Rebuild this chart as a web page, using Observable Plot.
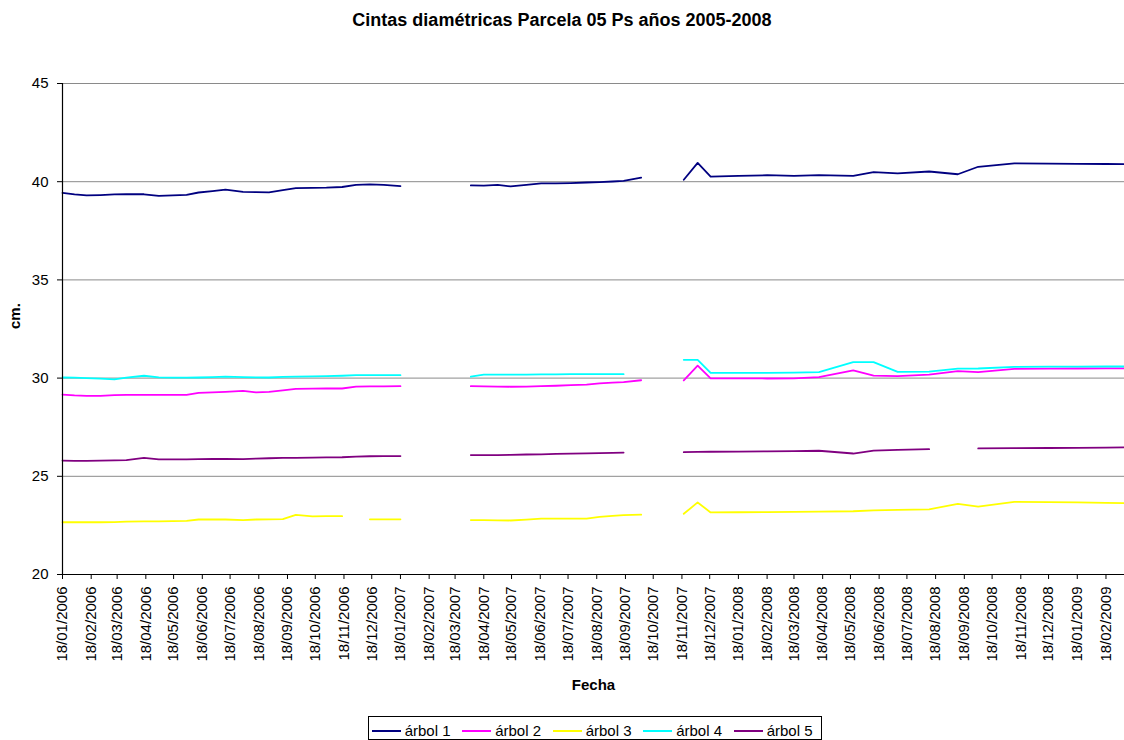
<!DOCTYPE html>
<html>
<head>
<meta charset="utf-8">
<script src="https://cdn.jsdelivr.net/npm/d3@7"></script>
<script src="https://cdn.jsdelivr.net/npm/@observablehq/plot@0.6"></script>
<style>
  body { margin: 0; background: #fff; font-family: "Liberation Sans", Arial, sans-serif; }
  #wrap { position: relative; width: 1124px; height: 740px; overflow: hidden; background: #fff; }
  #title { position: absolute; left: 0; top: 10px; width: 1124px; text-align: center;
           font-weight: bold; font-size: 18px; line-height: 20px; color: #000; }
  #chart { position: absolute; left: 0; top: 40px; }
  #legend { position: absolute; left: 368px; top: 716px; width: 452px; height: 22px;
            border: 1px solid #000; background: #fff; }
  .item { position: absolute; top: 0; height: 22px; }
  .swatch { position: absolute; left: 0; top: 13px; width: 29px; height: 2px; }
  .lab { position: absolute; left: 33px; top: 6px; font-size: 15px; line-height: 15px;
         white-space: nowrap; color: #000; }
</style>
</head>
<body>
<div id="wrap">
  <div id="title">Cintas diamétricas Parcela 05 Ps años 2005-2008</div>
  <div id="chart"></div>
  <div id="legend"></div>
</div>
<script>
// Measurement dates (dd/mm/yyyy); rows with no readings at all break the lines.
const fechas = [
  "18/01/2006","31/01/2006","13/02/2006","28/02/2006","15/03/2006","28/03/2006","16/04/2006",
  "02/05/2006","17/05/2006","01/06/2006","14/06/2006","29/06/2006","13/07/2006","01/08/2006",
  "15/08/2006","29/08/2006","13/09/2006","27/09/2006","15/10/2006","30/10/2006","16/11/2006",
  "01/12/2006","16/12/2006","31/12/2006","18/01/2007",
  "01/03/2007",
  "04/04/2007","18/04/2007","03/05/2007","17/05/2007","03/06/2007","19/06/2007","05/07/2007",
  "21/07/2007","07/08/2007","21/08/2007","04/09/2007","16/09/2007","05/10/2007",
  "28/10/2007",
  "20/11/2007","05/12/2007","19/12/2007","18/01/2008","18/02/2008","18/03/2008","14/04/2008",
  "21/05/2008","12/06/2008","08/07/2008","11/08/2008","11/09/2008","03/10/2008","11/11/2008",
  "18/12/2008","18/01/2009","18/02/2009","10/03/2009"
];

// Diameter tape readings (cm) per tree, aligned with fechas.
const arbol1 = [
  39.43,39.35,39.30,39.32,39.35,39.36,39.36,39.28,39.30,39.33,39.45,39.52,39.60,39.48,39.47,39.46,
  39.57,39.67,39.69,39.70,39.73,39.84,39.86,39.84,39.77,
  null,
  39.81,39.80,39.84,39.76,39.84,39.91,39.91,39.93,39.96,39.98,40.01,40.04,40.21,
  null,
  40.10,40.96,40.26,40.30,40.33,40.30,40.33,40.30,40.49,40.42,40.52,40.38,40.76,40.93,40.92,40.91,40.90,40.89
];
const arbol2 = [
  29.16,29.12,29.10,29.10,29.13,29.15,29.15,29.15,29.15,29.15,29.25,29.27,29.30,29.35,29.27,29.30,
  29.38,29.45,29.46,29.47,29.47,29.57,29.58,29.58,29.59,
  null,
  29.59,29.58,29.57,29.56,29.57,29.59,29.61,29.64,29.67,29.73,29.77,29.80,29.89,
  null,
  29.88,30.63,29.99,29.99,29.98,29.99,30.05,30.39,30.13,30.10,30.18,30.35,30.30,30.47,30.48,30.49,30.50,30.50
];
const arbol3 = [
  22.66,22.66,22.66,22.66,22.67,22.69,22.70,22.71,22.72,22.73,22.80,22.80,22.80,22.77,22.80,22.81,
  22.82,23.04,22.96,22.97,22.97,null,22.81,22.81,22.81,
  null,
  22.77,22.77,22.76,22.75,22.79,22.84,22.85,22.85,22.85,22.93,22.98,23.02,23.05,
  null,
  23.09,23.67,23.16,23.17,23.18,23.19,23.20,23.22,23.27,23.29,23.32,23.60,23.46,23.70,23.69,23.67,23.65,23.63
];
const arbol4 = [
  30.03,30.02,30.00,29.97,29.93,30.02,30.12,30.04,30.02,30.02,30.03,30.05,30.07,30.05,30.04,30.03,
  30.06,30.08,30.09,30.10,30.12,30.15,30.15,30.15,30.15,
  null,
  30.07,30.18,30.18,30.18,30.18,30.19,30.19,30.20,30.20,30.20,30.20,30.20,null,
  null,
  30.93,30.93,30.27,30.27,30.27,30.28,30.30,30.81,30.81,30.32,30.33,30.48,30.49,30.57,30.58,30.58,30.59,30.59
];
const arbol5 = [
  25.80,25.79,25.79,25.80,25.81,25.82,25.94,25.86,25.86,25.86,25.87,25.88,25.89,25.87,25.90,25.92,
  25.94,25.94,25.95,25.96,25.97,26.00,26.02,26.03,26.03,
  null,
  26.08,26.08,26.08,26.09,26.11,26.12,26.14,26.15,26.17,26.18,26.19,26.21,null,
  null,
  26.23,26.24,26.25,26.26,26.27,26.28,26.30,26.16,26.31,26.35,26.38,null,26.42,26.43,26.44,26.45,26.46,26.47
];

const series = ["árbol 1", "árbol 2", "árbol 3", "árbol 4", "árbol 5"];
const colores = ["#000080", "#FF00FF", "#FFFF00", "#00FFFF", "#800080"];

// Axis ticks
const yTicks = [20, 25, 30, 35, 40, 45];
const xTickLabels = [
  "18/01/2006","18/02/2006","18/03/2006","18/04/2006","18/05/2006","18/06/2006","18/07/2006",
  "18/08/2006","18/09/2006","18/10/2006","18/11/2006","18/12/2006","18/01/2007","18/02/2007",
  "18/03/2007","18/04/2007","18/05/2007","18/06/2007","18/07/2007","18/08/2007","18/09/2007",
  "18/10/2007","18/11/2007","18/12/2007","18/01/2008","18/02/2008","18/03/2008","18/04/2008",
  "18/05/2008","18/06/2008","18/07/2008","18/08/2008","18/09/2008","18/10/2008","18/11/2008",
  "18/12/2008","18/01/2009","18/02/2009"
];
const xStart = "18/01/2006";
const xEnd = "10/03/2009";

const parse = d3.utcParse("%d/%m/%Y");
const fmt = d3.utcFormat("%d/%m/%Y");
const valores = [arbol1, arbol2, arbol3, arbol4, arbol5];

const rows = [];
series.forEach((s, i) => {
  fechas.forEach((f, j) => {
    rows.push({serie: s, fecha: parse(f), valor: valores[i][j]});
  });
});

const font = "'Liberation Sans', Arial, Helvetica, sans-serif";

const chart = Plot.plot({
  width: 1124,
  height: 660,
  marginTop: 43,
  marginBottom: 126,
  marginLeft: 62,
  marginRight: 0,
  style: {fontFamily: font, fontSize: "15px", color: "#000", background: "#fff", overflow: "visible"},
  x: {type: "utc", domain: [parse(xStart), parse(xEnd)], label: null},
  y: {domain: [20, 45], label: null},
  color: {domain: series, range: colores},
  marks: [
    Plot.ruleY(yTicks.filter(d => d > 20), {stroke: "#8a8a8a", strokeWidth: 1}),
    Plot.axisY(yTicks, {tickSize: 5, tickPadding: 9, fontSize: 15, label: null}),
    Plot.axisX(xTickLabels.map(parse), {tickSize: 5, tickPadding: 7, tickRotate: -90, tickFormat: fmt, fontSize: 15, label: null}),
    Plot.line(rows, {x: "fecha", y: "valor", z: "serie", stroke: "serie", strokeWidth: 1.8}),
    Plot.ruleX([parse(xStart)], {stroke: "#000", strokeWidth: 1.2}),
    Plot.ruleY([20], {stroke: "#000", strokeWidth: 1.2}),
    Plot.text(["Fecha"], {text: d => d, frameAnchor: "bottom", dy: 115, fontWeight: "bold", fontSize: 15}),
    Plot.text(["cm."], {text: d => d, frameAnchor: "left", dx: -47, rotate: -90, fontWeight: "bold", fontSize: 15})
  ]
});
document.getElementById("chart").appendChild(chart);

// Legend
const legend = document.getElementById("legend");
series.forEach((s, i) => {
  const item = document.createElement("div");
  item.className = "item";
  item.style.left = (2.7 + i * 90.5) + "px";
  const sw = document.createElement("div");
  sw.className = "swatch";
  sw.style.background = colores[i];
  const lab = document.createElement("div");
  lab.className = "lab";
  lab.textContent = s;
  item.appendChild(sw);
  item.appendChild(lab);
  legend.appendChild(item);
});
</script>
</body>
</html>
